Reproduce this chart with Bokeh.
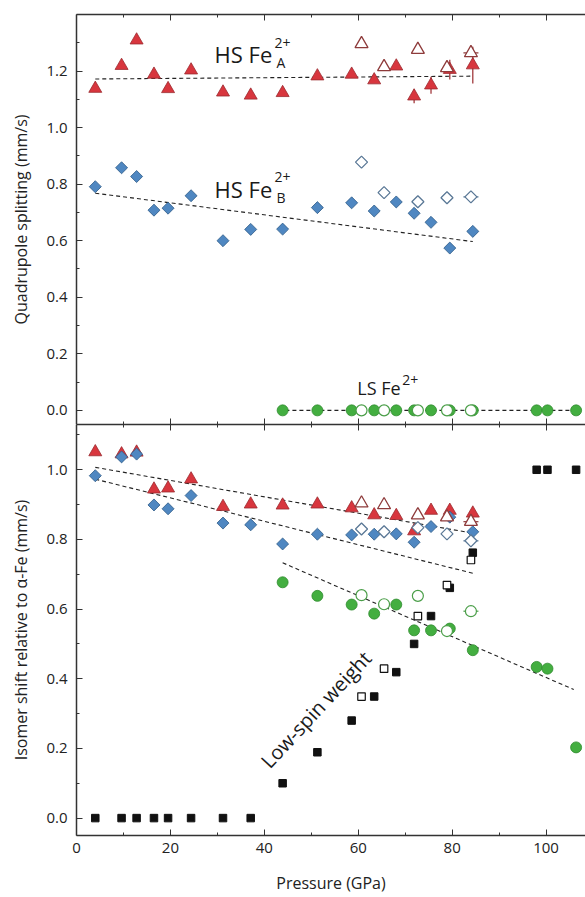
import math
from bokeh.plotting import figure
from bokeh.layouts import column
from bokeh.models import (Range1d, LinearAxis, FixedTicker, Label, PrintfTickFormatter,
                          CustomLabelingPolicy)
from bokeh.embed import file_html
from bokeh.resources import INLINE

FONT = "Open Sans"

# ---------------- data ----------------
# pressures (GPa)
p_fill = [4.0, 9.6, 12.8, 16.5, 19.5, 24.4, 31.2, 37.1, 43.9, 51.3, 58.6, 63.4, 68.1, 71.9, 75.5, 79.5, 84.4]
p_open = [60.7, 65.5, 72.7, 78.9, 84.0]
p_open_err = [0.0, 0.0, 0.0, 0.0, 1.6]
p_ls = [43.9, 51.3, 58.6, 63.4, 68.1, 71.9, 75.5, 79.5, 84.4, 98.0, 100.3, 106.4]

# quadrupole splitting (mm/s)
qs_A = [1.138, 1.219, 1.309, 1.188, 1.137, 1.203, 1.125, 1.114, 1.123, 1.182, 1.188, 1.168, 1.217, 1.111, 1.150, 1.205, 1.221]
qs_A_err = [0, 0, 0, 0, 0, 0, 0, 0, 0, 0, 0, 0, 0, 0.025, 0.03, 0.035, 0.065]
qs_A_open = [1.296, 1.215, 1.276, 1.211, 1.264]
qs_B = [0.791, 0.858, 0.827, 0.708, 0.715, 0.759, 0.600, 0.640, 0.641, 0.717, 0.734, 0.705, 0.737, 0.697, 0.665, 0.574, 0.633]
qs_B_open = [0.878, 0.770, 0.738, 0.752, 0.755]
qs_LS = [0.0, 0.0, 0.0, 0.0, 0.0, 0.0, 0.0, 0.0, 0.0, 0.0, 0.0, 0.0]
qs_LS_open = [0.0, 0.0, 0.0, 0.0, 0.0]

# isomer shift relative to alpha-Fe (mm/s)
is_A = [1.051, 1.045, 1.050, 0.944, 0.947, 0.973, 0.894, 0.901, 0.898, 0.901, 0.890, 0.870, 0.868, 0.824, 0.883, 0.883, 0.875]
is_A_open = [0.904, 0.899, 0.870, 0.864, 0.851]
is_B = [0.983, 1.037, 1.045, 0.899, 0.888, 0.926, 0.847, 0.842, 0.787, 0.815, 0.813, 0.815, 0.816, 0.792, 0.837, 0.864, 0.822]
is_B_open = [0.830, 0.822, 0.834, 0.816, 0.796]
is_LS = [0.677, 0.638, 0.613, 0.587, 0.613, 0.539, 0.539, 0.544, 0.482, 0.434, 0.429, 0.203]
is_LS_open = [0.640, 0.614, 0.638, 0.537, 0.594]

# low-spin weight
p_w = [4.0, 9.6, 12.8, 16.5, 19.5, 24.4, 31.2, 37.1, 43.9, 51.3, 58.6, 63.4, 68.1, 71.9, 75.5, 79.5, 84.4, 98.0, 100.3, 106.4]
w_ls = [0, 0, 0, 0, 0, 0, 0, 0, 0.100, 0.189, 0.280, 0.349, 0.419, 0.500, 0.580, 0.661, 0.762, 1.0, 1.0, 1.0]
w_ls_open = [0.349, 0.429, 0.580, 0.669, 0.741]

# linear fits (end points)
fit_qsA_p, fit_qsA = [4.0, 84.4], [1.172, 1.182]
fit_qsB_p, fit_qsB = [4.0, 84.4], [0.768, 0.597]
fit_qsLS_p, fit_qsLS = [43.0, 106.4], [0.0, 0.0]
fit_isA_p, fit_isA = [4.0, 84.4], [1.007, 0.818]
fit_isB_p, fit_isB = [4.0, 84.4], [0.973, 0.703]
fit_isLS_p, fit_isLS = [43.9, 105.9], [0.733, 0.369]

x_major = [0, 20, 40, 60, 80, 100]
x_minor = [10, 30, 50, 70, 90, 110]

# ---------------- styles ----------------
RED, RED_L = "#d8363e", "#9a2a2e"
RED_OPEN = "#8e3b3b"
BLUE, BLUE_L = "#4f87c1", "#2d5a86"
BLUE_OPEN = "#5a7896"
GREEN, GREEN_L = "#43ae40", "#2d8a2c"
GREEN_OPEN = "#4a9e48"
TRI, DIA, CIR, SQ = 13, 8.5, 11, 7.5
ROT = math.pi / 4
AXIS_LABEL_SIZE = "16px"


def style_x(ax, labels):
    ax.ticker = FixedTicker(ticks=x_major, minor_ticks=x_minor)
    ax.major_tick_in = 6
    ax.major_tick_out = 0
    ax.minor_tick_in = 3
    ax.minor_tick_out = 0
    ax.axis_line_color = "#333333"
    ax.major_tick_line_color = "#333333"
    ax.minor_tick_line_color = "#333333"
    ax.axis_line_width = 1.5
    if labels:
        ax.major_label_text_font = FONT
        ax.major_label_text_font_size = "15px"
        ax.major_label_text_color = "#222222"
        ax.major_label_standoff = 7
    else:
        ax.major_label_policy = CustomLabelingPolicy(code="return []")
        ax.major_label_text_font_size = "0px"
        ax.major_label_standoff = 0


def style_y(ax, majors, minors, label):
    ax.ticker = FixedTicker(ticks=majors, minor_ticks=minors)
    ax.formatter = PrintfTickFormatter(format="%.1f")
    ax.major_tick_in = 6
    ax.major_tick_out = 0
    ax.minor_tick_in = 3
    ax.minor_tick_out = 0
    ax.axis_line_color = "#333333"
    ax.major_tick_line_color = "#333333"
    ax.minor_tick_line_color = "#333333"
    ax.axis_line_width = 1.5
    ax.major_label_text_font = FONT
    ax.major_label_text_font_size = "15px"
    ax.major_label_text_color = "#222222"
    ax.major_label_standoff = 9
    ax.axis_label = label
    ax.axis_label_text_font = FONT
    ax.axis_label_text_font_size = AXIS_LABEL_SIZE
    ax.axis_label_text_font_style = "normal"
    ax.axis_label_text_color = "#222222"
    ax.axis_label_standoff = 11


def base_fig(h, yr, top, bottom):
    p = figure(width=585, height=h, x_range=Range1d(0, 108.4), y_range=yr,
               output_backend="svg", toolbar_location=None,
               min_border_left=76, min_border_right=0,
               min_border_top=top, min_border_bottom=bottom)
    p.outline_line_color = None
    p.xgrid.visible = False
    p.ygrid.visible = False
    p.background_fill_color = "white"
    p.border_fill_color = "white"
    return p


def add_label(p, x, y, text, size, xo=0, yo=0, angle=0.0, align="left", baseline="alphabetic"):
    p.add_layout(Label(x=x, y=y, text=text, x_offset=xo, y_offset=yo, angle=angle,
                       text_font=FONT, text_font_size=size, text_color="#1a1a1a",
                       text_align=align, text_baseline=baseline))


# ---------------- top panel: quadrupole splitting ----------------
top = base_fig(424, Range1d(-0.05, 1.4), 14, 0)
style_x(top.xaxis[0], False)
ax_top = LinearAxis()
style_x(ax_top, False)
top.add_layout(ax_top, "above")
style_y(top.yaxis[0], [0, 0.2, 0.4, 0.6, 0.8, 1.0, 1.2], [0.1, 0.3, 0.5, 0.7, 0.9, 1.1, 1.3],
        "Quadrupole splitting (mm/s)")

dash = dict(line_color="#222222", line_width=1.1, line_dash="4 3")
top.line(fit_qsA_p, fit_qsA, **dash)
top.line(fit_qsB_p, fit_qsB, **dash)
top.line(fit_qsLS_p, fit_qsLS, **dash)

# error bars
eA = [(p, q, e) for p, q, e in zip(p_fill, qs_A, qs_A_err) if e > 0]
top.segment([a[0] for a in eA], [a[1] - a[2] for a in eA], [a[0] for a in eA], [a[1] + a[2] for a in eA],
            line_color=RED_L, line_width=1.2)
for vals, col in ((qs_A_open, RED_OPEN), (qs_B_open, BLUE_OPEN)):
    eo = [(p, q, e) for p, q, e in zip(p_open, vals, p_open_err) if e > 0]
    top.segment([a[0] - a[2] for a in eo], [a[1] for a in eo], [a[0] + a[2] for a in eo], [a[1] for a in eo],
                line_color=col, line_width=1.2)

top.scatter(p_ls, qs_LS, marker="circle", size=CIR, fill_color=GREEN, line_color=GREEN_L, line_width=0.8)
top.scatter(p_open, qs_LS_open, marker="circle", size=CIR, fill_color="white", line_color=GREEN_OPEN, line_width=1.2)
top.scatter(p_fill, qs_A, marker="triangle", size=TRI, fill_color=RED, line_color=RED_L, line_width=0.8)
top.scatter(p_fill, qs_B, marker="square", angle=ROT, size=DIA, fill_color=BLUE, line_color=BLUE_L, line_width=0.8)
top.scatter(p_open, qs_A_open, marker="triangle", size=TRI, fill_color="white", line_color=RED_OPEN, line_width=1.3)
top.scatter(p_open, qs_B_open, marker="square", angle=ROT, size=DIA, fill_color="white", line_color=BLUE_OPEN, line_width=1.3)

add_label(top, 29.4, 1.261, "HS Fe", "22px")
add_label(top, 29.4, 1.261, "A", "14px", xo=62, yo=-8.5)
add_label(top, 29.4, 1.261, "2+", "14px", xo=60, yo=10.5)
add_label(top, 29.4, 0.783, "HS Fe", "22px")
add_label(top, 29.4, 0.783, "B", "14px", xo=62, yo=-8.5)
add_label(top, 29.4, 0.783, "2+", "14px", xo=60, yo=12)
add_label(top, 59.8, 0.078, "LS Fe", "18px")
add_label(top, 59.8, 0.078, "2+", "14px", xo=45, yo=8)

# ---------------- bottom panel: isomer shift ----------------
bot = base_fig(473, Range1d(-0.05, 1.13), 0, 62)
style_x(bot.xaxis[0], True)
bot.xaxis[0].axis_label = "Pressure (GPa)"
bot.xaxis[0].axis_label_text_font = FONT
bot.xaxis[0].axis_label_text_font_size = AXIS_LABEL_SIZE
bot.xaxis[0].axis_label_text_font_style = "normal"
bot.xaxis[0].axis_label_text_color = "#222222"
bot.xaxis[0].axis_label_standoff = 16
ax_top2 = LinearAxis()
style_x(ax_top2, False)
bot.add_layout(ax_top2, "above")
style_y(bot.yaxis[0], [0, 0.2, 0.4, 0.6, 0.8, 1.0], [0.1, 0.3, 0.5, 0.7, 0.9, 1.1],
        "Isomer shift relative to \u03b1-Fe (mm/s)")

bot.line(fit_isA_p, fit_isA, **dash)
bot.line(fit_isB_p, fit_isB, **dash)
bot.line(fit_isLS_p, fit_isLS, **dash)

for vals, col in ((is_A_open, RED_OPEN), (is_B_open, BLUE_OPEN), (is_LS_open, GREEN_OPEN)):
    eo = [(p, q, e) for p, q, e in zip(p_open, vals, p_open_err) if e > 0]
    bot.segment([a[0] - a[2] for a in eo], [a[1] for a in eo], [a[0] + a[2] for a in eo], [a[1] for a in eo],
                line_color=col, line_width=1.2)

bot.scatter(p_w, w_ls, marker="square", size=SQ, fill_color="#111111", line_color="#111111")
bot.scatter(p_open, w_ls_open, marker="square", size=SQ, fill_color="white", line_color="#111111", line_width=1.2)
bot.scatter(p_ls, is_LS, marker="circle", size=CIR, fill_color=GREEN, line_color=GREEN_L, line_width=0.8)
bot.scatter(p_open, is_LS_open, marker="circle", size=CIR, fill_color="white", line_color=GREEN_OPEN, line_width=1.2)
bot.scatter(p_fill, is_A, marker="triangle", size=TRI, fill_color=RED, line_color=RED_L, line_width=0.8)
bot.scatter(p_fill, is_B, marker="square", angle=ROT, size=DIA, fill_color=BLUE, line_color=BLUE_L, line_width=0.8)
bot.scatter(p_open, is_A_open, marker="triangle", size=TRI, fill_color="white", line_color=RED_OPEN, line_width=1.3)
bot.scatter(p_open, is_B_open, marker="square", angle=ROT, size=DIA, fill_color="white", line_color=BLUE_OPEN, line_width=1.3)

add_label(bot, 51.0, 0.312, "Low-spin weight", "20px", angle=math.radians(47), align="center", baseline="middle")

layout = column(top, bot, spacing=0)
open("out.html", "w").write(file_html(layout, INLINE))
